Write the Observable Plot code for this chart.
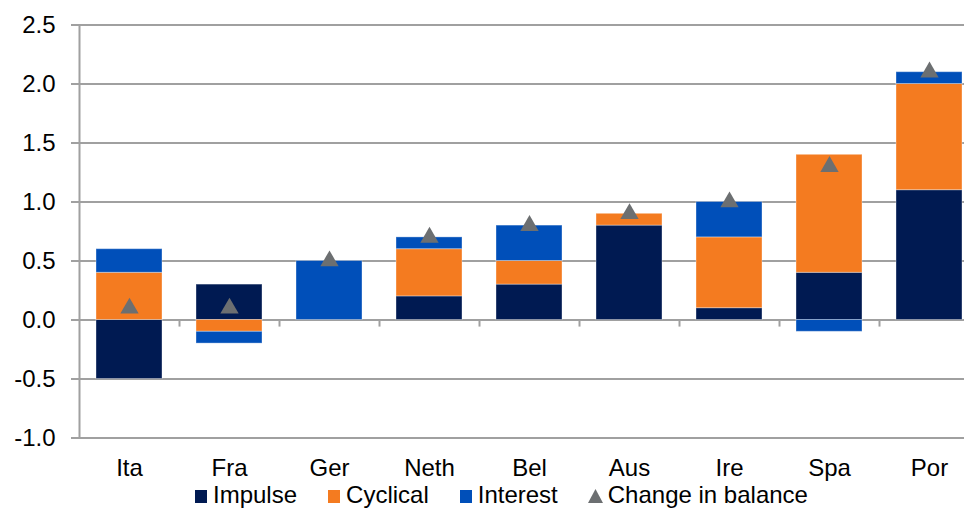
<!DOCTYPE html>
<html>
<head>
<meta charset="utf-8">
<script src="https://cdn.jsdelivr.net/npm/d3@7"></script>
<script src="https://cdn.jsdelivr.net/npm/@observablehq/plot@0.6"></script>
<style>
  html, body { margin: 0; padding: 0; background: #fff; }
  body { width: 964px; height: 509px; overflow: hidden; position: relative; font-family: "Liberation Sans", Arial, sans-serif; }
  #chart { position: absolute; left: 0; top: 0; width: 1000px; }
  #chart svg { max-width: none !important; width: 1000px !important; height: 482px !important; }
  #legend { position: absolute; left: 195px; top: 483px; display: flex; gap: 31px; font-size: 24px; line-height: 24px; color: #000; white-space: nowrap; }
  #legend .item { display: flex; align-items: baseline; }
  #legend .sw { display: inline-block; width: 12px; height: 13px; margin-right: 6px; margin-bottom: -3px; }
</style>
</head>
<body>
<div id="chart"></div>
<div id="legend"></div>
<script>
const countries = ["Ita", "Fra", "Ger", "Neth", "Bel", "Aus", "Ire", "Spa", "Por"];
const impulse   = [-0.5, 0.3, 0.0, 0.2, 0.3, 0.8, 0.1, 0.4, 1.1];
const cyclical  = [ 0.4, -0.1, 0.0, 0.4, 0.2, 0.1, 0.6, 1.0, 0.9];
const interest  = [ 0.2, -0.1, 0.5, 0.1, 0.3, 0.0, 0.3, -0.1, 0.1];
const change    = [ 0.1, 0.1, 0.5, 0.7, 0.8, 0.9, 1.0, 1.3, 2.1];
const seriesNames = ["Impulse", "Cyclical", "Interest"];
const seriesColors = ["#001a52", "#f47b20", "#004fb9"];
const markerName = "Change in balance";
const markerColor = "#6c6f71";
const yTicks = [-1.0, -0.5, 0.0, 0.5, 1.0, 1.5, 2.0, 2.5];

const seriesValues = [impulse, cyclical, interest];
const rows = [];
countries.forEach((c, i) => {
  seriesNames.forEach((s, j) => {
    const v = seriesValues[j][i];
    if (v !== 0) rows.push({country: c, series: s, value: v});
  });
});
const points = countries.map((c, i) => ({country: c, value: change[i]}));

const gridColor = "#a0a0a0";

const chart = Plot.plot({
  width: 1000,
  height: 482,
  marginTop: 24.5,
  marginBottom: 44.5,
  marginLeft: 79,
  marginRight: 21,
  style: { fontFamily: "'Liberation Sans', Arial, sans-serif", color: "#000", background: "transparent", overflow: "visible", maxWidth: "none" },
  x: { domain: countries, paddingInner: 0.34, paddingOuter: 0.17, label: null },
  y: { domain: [-1, 2.5], label: null },
  color: { domain: seriesNames, range: seriesColors },
  marks: [
    Plot.ruleY(yTicks, { stroke: gridColor, strokeWidth: 2 }),
    Plot.barY(rows, Plot.stackY({ x: "country", y: "value", fill: "series", stroke: "#ffffff", strokeOpacity: 0.35, strokeWidth: 1 })),
    Plot.ruleX(countries, { x: d => d, dx: 50, y1: 0, y2: -0.06, stroke: gridColor, strokeWidth: 2 }),
    Plot.frame({ anchor: "left", stroke: gridColor, strokeWidth: 2 }),
    Plot.dot(points, { x: "country", y: "value", symbol: "triangle", r: 6.8, fill: markerColor, stroke: "none" }),
    Plot.axisY(yTicks, { tickFormat: d => d.toFixed(1), tickSize: 8, tickPadding: 16, fontSize: 24, stroke: gridColor, strokeWidth: 2, label: null }),
    Plot.axisX({ tickSize: 0, tickPadding: 21, fontSize: 24, label: null })
  ]
});
document.getElementById("chart").appendChild(chart);

// Legend
const legend = document.getElementById("legend");
seriesNames.forEach((s, j) => {
  const item = document.createElement("div");
  item.className = "item";
  const sw = document.createElement("span");
  sw.className = "sw";
  sw.style.background = seriesColors[j];
  item.appendChild(sw);
  const t = document.createElement("span");
  t.textContent = s;
  item.appendChild(t);
  legend.appendChild(item);
});
{
  const item = document.createElement("div");
  item.className = "item";
  item.style.marginLeft = "-1px";
  item.innerHTML = `<svg width="15" height="14" style="margin-bottom:-2px;margin-right:5px" viewBox="0 0 15 14"><polygon points="7.5,0 15,14 0,14" fill="${markerColor}"/></svg>`;
  const t = document.createElement("span");
  t.textContent = markerName;
  item.appendChild(t);
  legend.appendChild(item);
}
</script>
</body>
</html>
